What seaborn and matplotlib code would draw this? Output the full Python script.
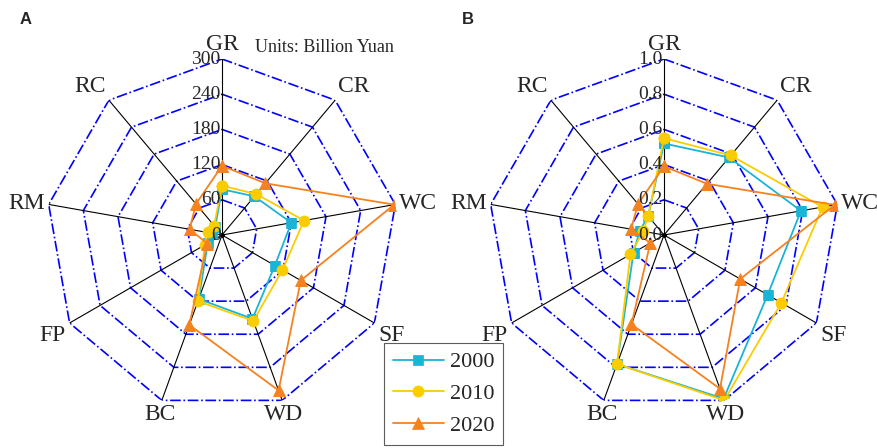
import numpy as np
import matplotlib
matplotlib.use("Agg")
import matplotlib.pyplot as plt
import seaborn as sns

# 指标（顺时针，从正上方开始）
categories = ['GR', 'CR', 'WC', 'SF', 'WD', 'BC', 'FP', 'RM', 'RC']
years = ['2000', '2010', '2020']

# A: 价值量 (Billion Yuan)
a_2000 = [78, 86, 120, 104, 152, 116, 28, 18, 18]
a_2010 = [84, 91, 142, 119, 156, 120, 34, 25, 21]
a_2020 = [118, 115, 298, 155, 282, 163, 29, 56, 69]

# B: 标准化值
b_2000 = [0.52, 0.575, 0.79, 0.68, 0.99, 0.78, 0.20, 0.14, 0.14]
b_2010 = [0.55, 0.59, 0.915, 0.77, 1.0, 0.78, 0.22, 0.12, 0.14]
b_2020 = [0.39, 0.38, 0.985, 0.50, 0.93, 0.54, 0.09, 0.19, 0.23]

a_ticks = [0, 60, 120, 180, 240, 300]
a_ticklabels = ['0', '60', '120', '180', '240', '300']
b_ticks = [0, 0.2, 0.4, 0.6, 0.8, 1.0]
b_ticklabels = ['0.0', '0.2', '0.4', '0.6', '0.8', '1.0']

colors = ['#1ab4d6', '#fbcd00', '#f5821f']
markers = ['s', 'o', '^']
msizes = [6.5, 8, 9]

sns.set_style("white")
plt.rcParams['font.family'] = ['Liberation Serif', 'DejaVu Serif']

fig = plt.figure(figsize=(8.77, 4.48), dpi=100)

R = 176
W, H = 877, 448
centers = [(222, 235), (664, 235)]

angles = np.deg2rad(np.arange(len(categories) + 1) * 360 / len(categories))

# 标签对齐方式
aligns = [('center', 'bottom'), ('left', 'bottom'), ('left', 'center'),
          ('left', 'top'), ('center', 'top'), ('center', 'top'),
          ('right', 'top'), ('right', 'center'), ('right', 'bottom')]


def radar(ax, series, ticks, ticklabels):
    rmax = ticks[-1]
    ax.set_theta_zero_location('N')
    ax.set_theta_direction(-1)
    # 九边形网格
    for t in ticks[1:]:
        ax.plot(angles, [t] * len(angles), color='blue', lw=1.2, ls='-.', zorder=1)
    for th in angles[:-1]:
        ax.plot([th, th], [0, rmax], color='black', lw=0.8, zorder=1)
    # 数据
    handles = []
    for vals, c, m, ms, y in zip(series, colors, markers, msizes, years):
        v = list(vals) + [vals[0]]
        sns.lineplot(x=angles, y=v, sort=False, ax=ax, color=c, lw=1.3,
                     marker=m, markersize=ms, markeredgecolor=c,
                     markeredgewidth=0.5, legend=False, zorder=3)
        handles.append(ax.get_lines()[-1])
    ax.plot([0], [0], 'o', color='black', ms=2.5, zorder=4)
    ax.set_ylim(0, rmax)
    ax.set_xticks([])
    ax.set_yticks([])
    ax.grid(False)
    ax.spines['polar'].set_visible(False)
    ax.set_xlabel('')
    ax.set_ylabel('')
    # 刻度标签
    for t, lab in zip(ticks, ticklabels):
        ax.annotate(lab, xy=(0, t), xytext=(-1, 0), textcoords='offset points',
                    ha='right', va='center', fontsize=14, zorder=5,
                    annotation_clip=False)
    # 指标名称
    for th, name, (ha, va) in zip(angles[:-1], categories, aligns):
        ax.annotate(name, xy=(th, rmax), xytext=(3 * np.sin(th), 3 * np.cos(th)),
                    textcoords='offset points', ha=ha, va=va, fontsize=17,
                    annotation_clip=False)
    return handles


axes = []
for cx, cy in centers:
    ax = fig.add_axes([(cx - R) / W, (H - cy - R) / H, 2 * R / W, 2 * R / H],
                      projection='polar')
    ax.set_facecolor('none')
    axes.append(ax)

handles = radar(axes[0], [a_2000, a_2010, a_2020], a_ticks, a_ticklabels)
radar(axes[1], [b_2000, b_2010, b_2020], b_ticks, b_ticklabels)

fig.text(255 / W, 1 - 48 / H, 'Units: Billion Yuan', ha='left', va='center', fontsize=13)
fig.text(20 / W, 1 - 20 / H, 'A', ha='left', va='center', fontsize=12,
         fontweight='bold', family=['Liberation Sans', 'DejaVu Sans'])
fig.text(462 / W, 1 - 20 / H, 'B', ha='left', va='center', fontsize=12,
         fontweight='bold', family=['Liberation Sans', 'DejaVu Sans'])

leg = fig.legend(handles, years, loc='upper left',
                 bbox_to_anchor=(384 / W, 1 - 343 / H), fontsize=16,
                 frameon=True, fancybox=False, edgecolor='#333333',
                 handlelength=2.3, handletextpad=0.25, labelspacing=0.5,
                 borderpad=0.4, borderaxespad=0)
leg.get_frame().set_linewidth(0.8)

fig.savefig('out.png', dpi=100)
